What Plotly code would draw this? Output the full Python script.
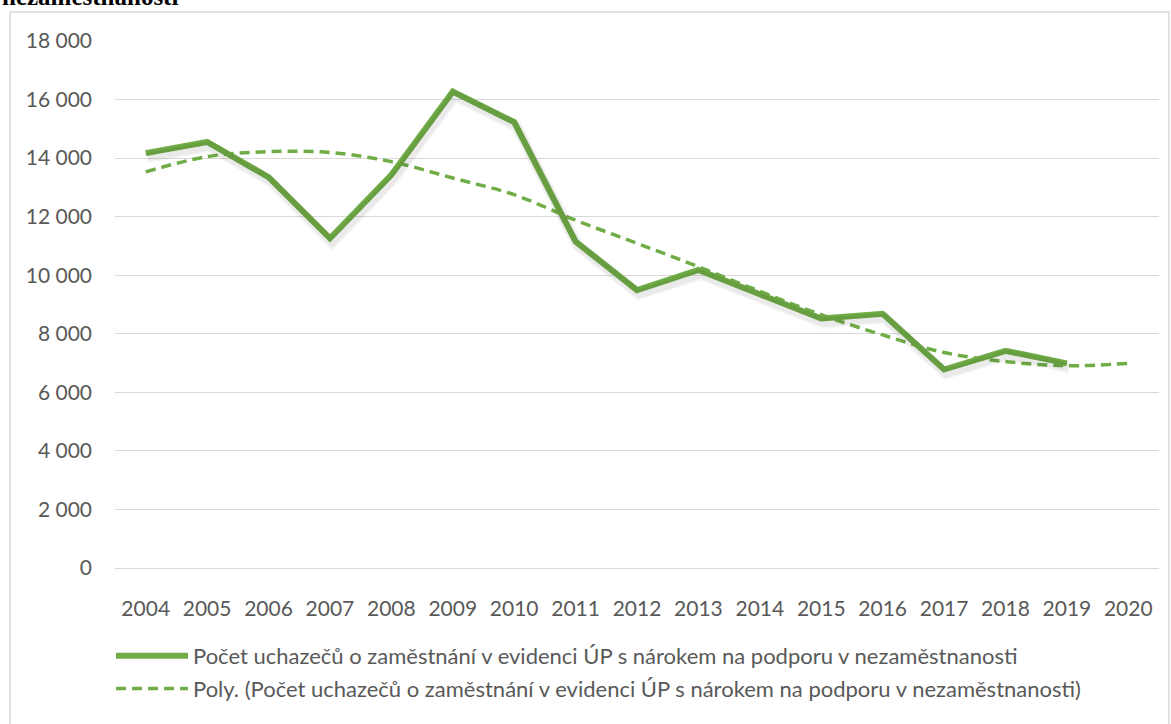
import plotly.graph_objects as go

# Data
years = [str(y) for y in range(2004, 2021)]
uchazeci = [14170, 14550, 13350, 11260, 13430, 16270, 15230, 11150,
            9490, 10180, 9350, 8520, 8680, 6780, 7420, 6990]
trend = [13530, 14050, 14220, 14190, 13880, 13320, 12750, 11880,
         11090, 10290, 9450, 8650, 7960, 7360, 7050, 6910, 6990]
y_ticks = list(range(0, 18001, 2000))

series_name = "Počet uchazečů o zaměstnání v evidenci ÚP s nárokem na podporu v nezaměstnanosti"
trend_name = "Poly. (" + series_name + ")"

GREEN = "#70AD47"
TEXT = "#595959"
FONT = "Lato, 'Open Sans', sans-serif"

W, H = 1171, 724
L, R, T, B = 115, 12, 41, 156
pw, ph = W - L - R, H - T - B
Y_MAX = 18000
x_range = [-0.5, len(years) - 0.5]


def px_x(p):
    return (p - L) / pw


def px_y(p):
    return (H - B - p) / ph


# soft drop shadow under the main line: same data on an overlaid axis pair
# whose range is nudged a few pixels
sx = 2 * len(years) / pw
sy = 4 * Y_MAX / ph

fig = go.Figure()

for width, alpha in [(12, 0.03), (9, 0.05)]:
    fig.add_trace(go.Scatter(
        x=years[:len(uchazeci)],
        y=uchazeci,
        mode="lines",
        line=dict(color=f"rgba(0,0,0,{alpha})", width=width),
        xaxis="x2",
        yaxis="y2",
        showlegend=False,
        hoverinfo="skip",
    ))

fig.add_trace(go.Scatter(
    x=years[:len(uchazeci)],
    y=uchazeci,
    mode="lines",
    name=series_name,
    line=dict(color=GREEN, width=6),
    legendgroup="a",
))

fig.add_trace(go.Scatter(
    x=years,
    y=trend,
    mode="lines",
    name=trend_name,
    line=dict(color=GREEN, width=3.5, dash="10px,6px", shape="spline"),
    legendgroup="b",
))

fig.update_layout(
    width=W,
    height=H,
    margin=dict(l=L, r=R, t=T, b=B, autoexpand=False),
    paper_bgcolor="white",
    plot_bgcolor="white",
    separators=", ",
    font=dict(family=FONT, size=21, color=TEXT),
    showlegend=True,
    legend=dict(
        x=px_x(111),
        y=px_y(635),
        xanchor="left",
        yanchor="top",
        orientation="v",
        itemwidth=72,
        tracegroupgap=1,
        font=dict(family=FONT, size=22, color=TEXT),
        bgcolor="rgba(0,0,0,0)",
    ),
    xaxis=dict(
        type="category",
        categoryorder="array",
        categoryarray=years,
        range=x_range,
        showgrid=False,
        showline=True,
        linecolor="#d9d9d9",
        linewidth=1,
        ticks="",
        ticklabelstandoff=22,
        tickfont=dict(family=FONT, size=21, color=TEXT),
        automargin=False,
        fixedrange=True,
    ),
    yaxis=dict(
        range=[0, Y_MAX],
        tickvals=y_ticks,
        tickformat=",d",
        showgrid=True,
        gridcolor="#d9d9d9",
        gridwidth=1,
        zeroline=False,
        showline=False,
        ticks="",
        ticklabelstandoff=22,
        tickfont=dict(family=FONT, size=21, color=TEXT),
        automargin=False,
        fixedrange=True,
    ),
    xaxis2=dict(
        type="category",
        categoryorder="array",
        categoryarray=years,
        range=[x_range[0] - sx, x_range[1] - sx],
        overlaying="x",
        visible=False,
        fixedrange=True,
    ),
    yaxis2=dict(
        range=[sy, Y_MAX + sy],
        overlaying="y",
        visible=False,
        fixedrange=True,
    ),
    shapes=[
        dict(
            type="rect",
            xref="paper", yref="paper",
            x0=px_x(10), x1=px_x(1169),
            y0=px_y(730), y1=px_y(12),
            line=dict(color="#d9d9d9", width=1.5),
            fillcolor="rgba(0,0,0,0)",
            layer="below",
        )
    ],
    annotations=[
        dict(
            text="<b>nezaměstnanosti</b>",
            xref="paper", yref="paper",
            x=px_x(0), y=px_y(12),
            xanchor="left", yanchor="bottom",
            showarrow=False,
            font=dict(family="Liberation Serif, Times New Roman, serif", size=25, color="black"),
        )
    ],
)

fig.write_html(
    "out.html",
    config={"displayModeBar": False},
    post_script="document.body.style.margin='0';",
)
